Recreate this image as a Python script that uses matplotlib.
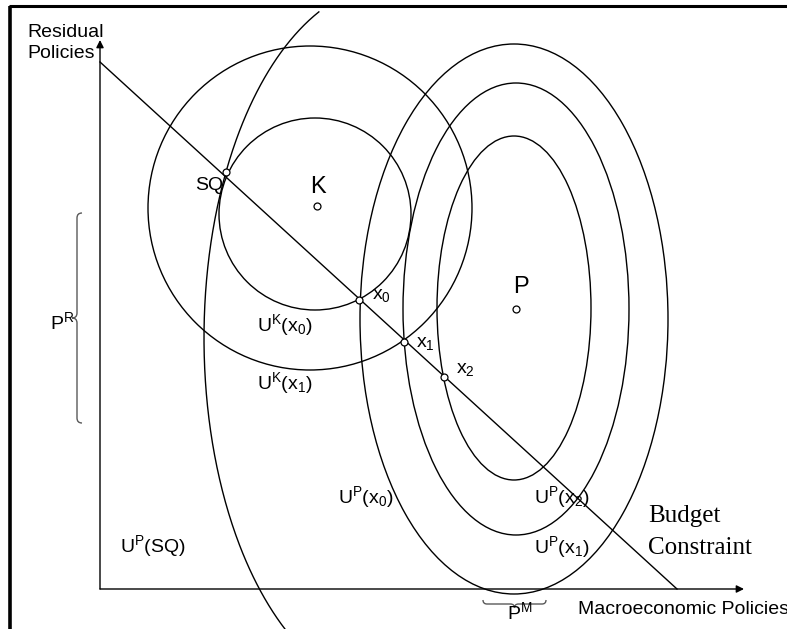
import numpy as np
import matplotlib
matplotlib.use('Agg')
import matplotlib.pyplot as plt
from matplotlib.path import Path
from matplotlib.patches import PathPatch, Ellipse

plt.rcParams['font.family'] = ['Liberation Sans', 'DejaVu Sans']
plt.rcParams['mathtext.fontset'] = 'custom'
plt.rcParams['mathtext.rm'] = 'Liberation Sans'
plt.rcParams['mathtext.it'] = 'Liberation Sans'

# diagram coordinates: origin at the corner of the two policy axes
budget_x = [0, 577]
budget_y = [527, 0]

# indifference curves of K (circles) and P (ellipses): centre x, centre y, half width, half height
k_cx = [215, 210]
k_cy = [375, 381]
k_r = [96, 162]

p_cx = [414, 416, 414]
p_cy = [281, 280, 270]
p_a = [77, 113, 154]
p_b = [172, 226, 275]

# big U^P(SQ) curve, only the left part is drawn
sq_c = (292, 251)
sq_ab = (188, 354)
sq_theta = (112.9, 236.0)

# marked points
pt_names = ['SQ', 'K', 'x0', 'x1', 'x2', 'P']
pt_x = [126, 217, 259, 304, 344, 416]
pt_y = [417, 383, 289, 247, 212, 280]

# labels
lab_text = ['SQ', r'U$^{\mathrm{K}}$(x$_{0}$)', r'U$^{\mathrm{K}}$(x$_{1}$)',
            r'U$^{\mathrm{P}}$(x$_{0}$)', r'U$^{\mathrm{P}}$(x$_{2}$)', r'U$^{\mathrm{P}}$(x$_{1}$)',
            r'U$^{\mathrm{P}}$(SQ)', r'x$_{0}$', r'x$_{1}$', r'x$_{2}$', r'P$^{\mathrm{R}}$']
lab_x = [95, 157, 157, 238, 434, 434, 20, 272, 316, 356, -50]
lab_y = [404, 264, 206, 92, 92, 42, 43, 293, 246, 219, 267]

fig = plt.figure(figsize=(7.87, 6.29), dpi=100)
ax = fig.add_axes([0, 0, 1, 1])
ax.set_xlim(-100, 687)
ax.set_ylim(-40, 589)
ax.axis('off')

lw = 1.0
# outer frame (left and top only)
ax.plot([-90, -90], [-40, 583], color='black', lw=2.6, clip_on=False, solid_capstyle='butt')
ax.plot([-91.3, 687], [583, 583], color='black', lw=2.2, clip_on=False, solid_capstyle='butt')

# axes with arrows
ax.annotate('', xy=(0, 549), xytext=(0, 0),
            arrowprops=dict(arrowstyle='-|>', color='black', lw=lw, mutation_scale=11, shrinkA=0, shrinkB=0))
ax.annotate('', xy=(644, 0), xytext=(0, 0),
            arrowprops=dict(arrowstyle='-|>', color='black', lw=lw, mutation_scale=11, shrinkA=0, shrinkB=0))

# budget line
ax.plot(budget_x, budget_y, color='black', lw=lw)

for cx, cy, r in zip(k_cx, k_cy, k_r):
    ax.add_patch(Ellipse((cx, cy), 2 * r, 2 * r, fill=False, ec='black', lw=lw))
for cx, cy, a, b in zip(p_cx, p_cy, p_a, p_b):
    ax.add_patch(Ellipse((cx, cy), 2 * a, 2 * b, fill=False, ec='black', lw=lw))

t = np.radians(np.linspace(sq_theta[0], sq_theta[1], 300))
ax.plot(sq_c[0] + sq_ab[0] * np.cos(t), sq_c[1] + sq_ab[1] * np.sin(t), color='black', lw=lw)

ax.plot(pt_x, pt_y, 'o', ms=5, mfc='white', mec='black', mew=0.9, zorder=5)


def brace(x0, y0, x1, y1, depth, color='0.35'):
    # curly brace from (x0,y0) to (x1,y1), tip pointing to the left of the direction
    p0 = np.array([x0, y0], float)
    p1 = np.array([x1, y1], float)
    d = p1 - p0
    L = np.hypot(*d)
    u = d / L
    n = np.array([u[1], -u[0]])
    h = depth / 2.0
    q = lambda s, o: p0 + u * s + n * o
    verts = [q(0, 0), q(0, h), q(h, h),
             q(L / 2 - h, h), q(L / 2, h), q(L / 2, 2 * h),
             q(L / 2, h), q(L / 2 + h, h),
             q(L - h, h), q(L, h), q(L, 0)]
    codes = [Path.MOVETO, Path.CURVE3, Path.CURVE3,
             Path.LINETO, Path.CURVE3, Path.CURVE3,
             Path.CURVE3, Path.CURVE3,
             Path.LINETO, Path.CURVE3, Path.CURVE3]
    ax.add_patch(PathPatch(Path(verts, codes), fill=False, ec=color, lw=1.0, clip_on=False))


brace(-18, 376, -18, 166, 10)
brace(383, -11, 446, -11, 8)

fs = 14
for s, x, y in zip(lab_text, lab_x, lab_y):
    ax.text(x, y, s, fontsize=fs, ha='left', va='center')

ax.text(218, 402, 'K', fontsize=17, ha='center', va='center')
ax.text(421, 302, 'P', fontsize=17, ha='center', va='center')
ax.text(420, -23, r'P$^{\mathrm{M}}$', fontsize=fs, ha='center', va='center')
ax.text(478, -21, 'Macroeconomic Policies', fontsize=fs, ha='left', va='center')
ax.text(-73, 546, 'Residual\nPolicies', fontsize=fs, ha='left', va='center', linespacing=1.25)
ax.text(548, 73, 'Budget', fontsize=18, family='Liberation Serif', ha='left', va='center')
ax.text(548, 41, 'Constraint', fontsize=18, family='Liberation Serif', ha='left', va='center')

fig.savefig('out.png', dpi=100)
